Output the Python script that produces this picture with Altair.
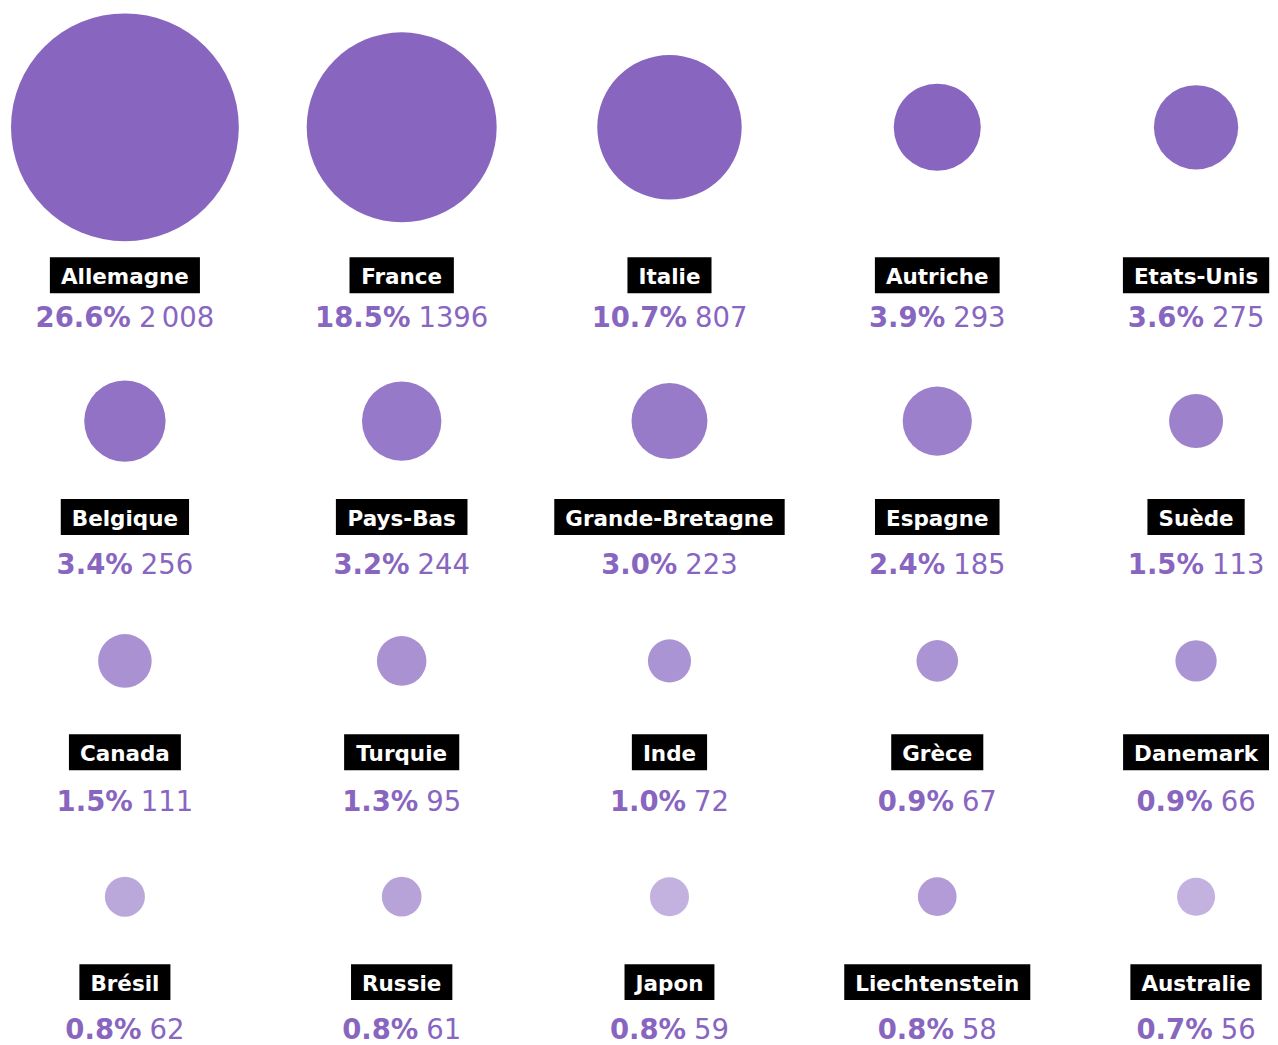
import altair as alt
import pandas as pd

# ---------------- data ----------------
COUNTRIES = ["Allemagne", "France", "Italie", "Autriche", "Etats-Unis",
             "Belgique", "Pays-Bas", "Grande-Bretagne", "Espagne", "Suède",
             "Canada", "Turquie", "Inde", "Grèce", "Danemark",
             "Brésil", "Russie", "Japon", "Liechtenstein", "Australie"]
SHARES = [26.6, 18.5, 10.7, 3.9, 3.6,
          3.4, 3.2, 3.0, 2.4, 1.5,
          1.5, 1.3, 1.0, 0.9, 0.9,
          0.8, 0.8, 0.8, 0.8, 0.7]
VALUES = [2008, 1396, 807, 293, 275,
          256, 244, 223, 185, 113,
          111, 95, 72, 67, 66,
          62, 61, 59, 58, 56]
VALUE_TEXT = ["2\u202f008", "1396", "807", "293", "275",
              "256", "244", "223", "185", "113",
              "111", "95", "72", "67", "66",
              "62", "61", "59", "58", "56"]
INTENSITY = [1.0, 1.0, 1.0, 1.0, 0.98,
             0.92, 0.88, 0.87, 0.83, 0.82,
             0.72, 0.72, 0.70, 0.70, 0.70,
             0.57, 0.60, 0.50, 0.65, 0.50]

# ---------------- style / layout ----------------
FONT = "DejaVu Sans"
PURPLE = "#8866c0"
LABEL_SIZE = 21.5
VALUE_SIZE = 27.5
N_COLS = 5
COL_DOMAIN = list(range(N_COLS))
COL_RANGE = [117, 394, 662, 930, 1189]   # piecewise-linear column positions
MAX_DIAM = 228

BOLD = {' ': .348, '-': .415, '.': .380, '%': 1.002,
        'A': .774, 'B': .762, 'C': .734, 'D': .830, 'E': .683, 'F': .683, 'G': .821,
        'I': .372, 'J': .372, 'L': .637, 'P': .733, 'R': .770, 'S': .720, 'T': .682, 'U': .812,
        'a': .675, 'b': .716, 'c': .593, 'd': .716, 'e': .678, 'f': .435, 'g': .716,
        'h': .712, 'i': .343, 'k': .665, 'l': .343, 'm': 1.042, 'n': .712, 'o': .687,
        'p': .716, 'q': .716, 'r': .493, 's': .595, 't': .478, 'u': .712, 'v': .652,
        'y': .652, 'z': .582, 'è': .678, 'é': .678}
REGULAR = {' ': .318, '\u202f': .2, '.': .318, '%': .950}
for d in "0123456789":
    BOLD[d] = .696
    REGULAR[d] = .636


def measure(s, table, size):
    return sum(table.get(ch, .65) for ch in s) * size


def shift(col, px):
    """Column coordinate that lies px pixels from column `col` on the piecewise scale."""
    if px >= 0:
        seg = col if col < N_COLS - 1 else col - 1
    else:
        seg = col - 1 if col > 0 else 0
    slope = COL_RANGE[seg + 1] - COL_RANGE[seg]
    return col + px / slope


rows = []
for i, name in enumerate(COUNTRIES):
    col, row = i % N_COLS, i // N_COLS
    pct = f"{SHARES[i]:.1f}%"
    num = VALUE_TEXT[i]
    half_box = (measure(name, BOLD, LABEL_SIZE) + 22) / 2
    pct_w = measure(pct, BOLD, VALUE_SIZE)
    num_w = measure(num, REGULAR, VALUE_SIZE)
    gap = 8
    total = pct_w + gap + num_w
    rows.append(dict(
        country=name, value=VALUES[i], intensity=INTENSITY[i], pct=pct, num=num,
        col=col, row=row,
        box_x0=shift(col, -half_box), box_x1=shift(col, half_box),
        pct_x=shift(col, -total / 2 + pct_w),
        num_x=shift(col, -total / 2 + pct_w + gap),
    ))
df = pd.DataFrame(rows)

xs = alt.Scale(type="linear", domain=COL_DOMAIN, range=COL_RANGE)
size_scale = alt.Scale(domain=[0, max(VALUES)], range=[0, MAX_DIAM ** 2])

# per-row panel geometry: height, circle centre, box centre, value baseline
ROW_GEOM = [
    (337, 119, 267, 319),
    (245, 76, 172, 229),
    (238, 71, 162.5, 221),
    (214, 69, 154.5, 211),
]

panels = []
for r, (h, cy, bc, vb) in enumerate(ROW_GEOM):
    d = df[df.row == r]
    base = alt.Chart(d)
    circles = base.mark_circle(color=PURPLE).encode(
        x=alt.X("col:Q", scale=xs, axis=None),
        y=alt.value(cy),
        size=alt.Size("value:Q", scale=size_scale, legend=None),
        opacity=alt.Opacity("intensity:Q", scale=None, legend=None),
    )
    boxes = base.mark_rect(color="black").encode(
        x=alt.X("box_x0:Q", scale=xs, axis=None),
        x2="box_x1:Q",
        y=alt.value(bc - 18),
        y2=alt.value(bc + 18),
    )
    labels = base.mark_text(font=FONT, fontWeight="bold", fontSize=LABEL_SIZE,
                            color="white", align="center", baseline="alphabetic").encode(
        x=alt.X("col:Q", scale=xs, axis=None),
        y=alt.value(bc + 9),
        text="country:N",
    )
    pcts = base.mark_text(font=FONT, fontWeight="bold", fontSize=VALUE_SIZE,
                          color=PURPLE, align="right", baseline="alphabetic").encode(
        x=alt.X("pct_x:Q", scale=xs, axis=None),
        y=alt.value(vb),
        text="pct:N",
    )
    nums = base.mark_text(font=FONT, fontWeight="normal", fontSize=VALUE_SIZE,
                          color=PURPLE, align="left", baseline="alphabetic").encode(
        x=alt.X("num_x:Q", scale=xs, axis=None),
        y=alt.value(vb),
        text="num:N",
    )
    panels.append(alt.layer(circles, boxes, labels, pcts, nums).properties(width=1262, height=h))

chart = alt.vconcat(*panels, spacing=0).properties(padding=0).configure_view(stroke=None)

chart.save("out.html", embed_options={"renderer": "svg", "actions": False})
